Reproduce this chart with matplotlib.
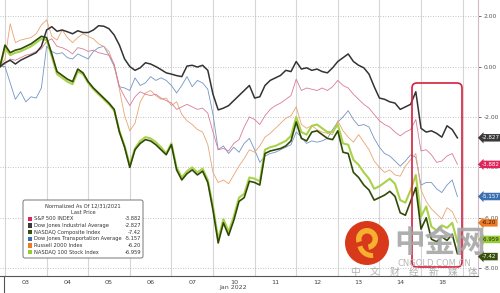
import matplotlib
matplotlib.use('Agg')
import matplotlib.pyplot as plt
import matplotlib.patches as mpatches
import matplotlib.transforms as mtransforms

# Dias de negociacion (eje x) y etiquetas
days = ['03', '04', '05', '06', '07', '10', '11', '12', '13', '14', '18']
samples_per_day = 8

# Rendimiento normalizado (%) desde 12/31/2021, 8 lecturas por dia
dow = [0.0,
       0.15, 0.25, 0.10, 0.25, 0.35, 0.45, 0.55, 0.80,
       1.45, 1.58, 1.40, 1.45, 1.38, 1.30, 1.42, 1.35,
       1.35, 1.45, 1.62, 1.60, 1.50, 1.25, 0.85, 0.30,
       0.00, -0.15, -0.05, 0.15, 0.10, 0.00, -0.12, -0.25,
       -0.30, -0.36, -0.40, 0.02, 0.05, -0.02, 0.05, -0.15,
       -1.10, -1.72, -1.65, -1.55, -1.35, -1.15, -0.95, -0.75,
       -1.25, -1.20, -0.75, -0.55, -0.45, -0.35, -0.15, -0.20,
       0.20, -0.10, -0.05, -0.15, -0.10, -0.20, -0.25, -0.05,
       0.20, 0.35, 0.50, 0.20, 0.05, -0.05, -0.30, -0.80,
       -1.25, -1.30, -1.40, -1.45, -1.70, -1.60, -1.50, -1.00,
       -2.45, -2.60, -2.55, -2.65, -2.80, -2.35, -2.50, -2.83]

spx = [0.0,
       0.10, 0.30, 0.25, 0.35, 0.45, 0.50, 0.60, 0.70,
       1.00, 1.10, 0.80, 0.75, 0.65, 0.50, 0.75, 0.70,
       0.60, 0.65, 0.55, 0.50, 0.45, 0.10, -0.80, -1.20,
       -1.55, -1.20, -1.00, -1.10, -1.15, -1.10, -1.25, -1.35,
       -1.45, -1.70, -1.60, -1.50, -1.60, -1.70, -1.65, -1.85,
       -2.60, -3.30, -3.25, -3.35, -3.05, -2.90, -2.40, -2.00,
       -2.10, -2.30, -1.95, -1.70, -1.55, -1.45, -1.30, -1.15,
       -0.50, -0.95, -0.85, -0.90, -0.95, -0.85, -0.95, -0.80,
       -0.55, -0.75, -0.85, -1.10, -1.30, -1.50, -1.65, -1.90,
       -2.15, -2.30, -2.40, -2.60, -2.75, -2.60, -2.50, -2.10,
       -3.35, -3.30, -3.50, -3.80, -3.75, -3.55, -3.45, -3.88]

ccmp = [0.0,
        0.85, 0.55, 0.65, 0.70, 0.80, 0.90, 1.05, 1.20,
        1.15, 0.50, -0.20, -0.35, -0.50, -0.60, -0.10, -0.25,
        -0.60, -0.85, -1.05, -1.25, -1.45, -1.70, -2.60, -3.20,
        -4.00, -3.30, -3.05, -2.90, -2.95, -3.10, -3.30, -3.50,
        -3.10, -4.10, -4.50, -4.25, -4.10, -4.30, -4.15, -4.60,
        -5.70, -7.00, -6.20, -6.70, -6.10, -5.35, -5.20, -4.55,
        -4.60, -4.70, -3.45, -3.35, -3.30, -3.25, -3.15, -2.95,
        -2.20, -2.85, -2.95, -2.60, -2.55, -2.70, -2.85, -2.90,
        -2.55, -3.40, -3.45, -4.20, -4.40, -4.70, -4.90, -5.30,
        -5.20, -5.10, -4.95, -5.15, -5.80, -5.90, -5.35, -4.80,
        -6.45, -6.00, -6.85, -6.95, -6.75, -6.90, -6.65, -7.42]

tran = [0.0,
        0.00, -0.65, -1.30, -1.00, -1.40, -1.20, -1.25, -0.85,
        0.80, 0.60, 0.50, 0.55, 0.35, 0.30, 0.50, 0.40,
        0.30, 0.60, 0.75, 0.80, 0.45, 0.00, -0.80, -0.85,
        -0.95, -0.45, -0.75, -0.65, -0.40, -0.55, -0.45, -0.55,
        -0.75, -1.05, -0.75, -0.40, -0.80, -0.55, -0.65, -0.90,
        -1.90, -3.30, -3.15, -3.45, -3.20, -3.40, -3.05, -2.85,
        -3.30, -3.80, -3.55, -3.45, -3.40, -3.30, -3.20, -3.10,
        -2.60, -2.80, -3.05, -2.95, -3.00, -2.95, -2.85, -2.50,
        -2.20, -2.00, -1.75, -2.10, -2.35, -2.30, -2.40, -2.85,
        -3.20, -3.45, -3.55, -3.75, -3.95, -3.75, -3.50, -3.60,
        -4.70, -4.60, -4.60, -4.85, -5.00, -4.70, -4.50, -5.157]

rty = [0.0,
       0.30, 1.70, 0.95, 1.05, 1.10, 1.15, 1.30, 1.65,
       1.85, 1.20, 1.05, 1.45, 1.15, 0.95, 1.15, 1.30,
       1.20, 1.10, 0.90, 0.80, 0.60, 0.05, -0.90, -1.95,
       -2.55, -2.25, -1.40, -1.05, -0.95, -1.15, -1.30, -1.25,
       -1.55, -1.40, -1.90, -2.15, -2.30, -2.50, -2.60, -3.10,
       -4.20, -4.60, -4.50, -4.65, -4.30, -3.95, -3.65, -3.30,
       -3.40, -3.15, -2.80, -2.65, -2.45, -2.25, -2.05, -1.95,
       -1.60, -2.30, -2.45, -2.35, -2.50, -2.60, -2.65, -2.70,
       -2.15, -2.55, -2.80, -3.00, -2.70, -3.00, -3.30, -3.75,
       -4.00, -4.20, -4.10, -4.30, -4.35, -3.95, -3.70, -3.45,
       -4.90, -5.35, -5.65, -5.85, -6.05, -5.60, -5.75, -6.20]

ndx = [0.0,
       0.75, 0.45, 0.55, 0.60, 0.70, 0.80, 0.95, 1.10,
       1.05, 0.40, -0.30, -0.45, -0.60, -0.70, -0.20, -0.30,
       -0.65, -0.90, -1.10, -1.30, -1.50, -1.75, -2.55, -3.15,
       -3.90, -3.25, -2.95, -2.80, -2.85, -3.00, -3.20, -3.45,
       -3.05, -4.00, -4.40, -4.15, -4.00, -4.20, -4.05, -4.50,
       -5.55, -6.85, -6.05, -6.55, -5.95, -5.20, -5.05, -4.40,
       -4.45, -4.55, -3.30, -3.20, -3.15, -3.05, -2.95, -2.75,
       -2.00, -2.60, -2.70, -2.35, -2.30, -2.45, -2.60, -2.60,
       -2.30, -3.05, -3.10, -3.70, -3.90, -4.20, -4.45, -4.85,
       -4.75, -4.60, -4.45, -4.65, -5.30, -5.40, -4.90, -4.30,
       -5.95, -5.55, -6.35, -6.50, -6.30, -6.40, -6.20, -6.959]

legend_names = ['S&P 500 INDEX', 'Dow Jones Industrial Average', 'NASDAQ Composite Index',
                'Dow Jones Transportation Average', 'Russell 2000 Index', 'NASDAQ 100 Stock Index']
legend_values = ['-3.882', '-2.827', '-7.42', '-5.157', '-6.20', '-6.959']
legend_colors = ['#e0245a', '#3a3a3a', '#37500c', '#3c6fb0', '#f07820', '#98cc33']

# posicion temporal en dias (un punto previo = cierre 12/31)
pos = [-0.12] + [d + k / samples_per_day for d in range(len(days)) for k in range(samples_per_day)]

fig = plt.figure(figsize=(5, 2.93), dpi=100)
ax = fig.add_axes([0, 0.058, 0.956, 0.942])

# lineas
ax.plot(pos, tran, color='#7393c4', lw=0.6, zorder=2)
ax.plot(pos, rty, color='#eba36f', lw=0.6, zorder=2)
ax.plot(pos, spx, color='#d97b98', lw=0.6, zorder=2)
ax.plot(pos, ndx, color='#a9d24a', lw=1.5, zorder=3)
ax.plot(pos, ccmp, color='#2f4a07', lw=1.2, zorder=4)
ax.plot(pos, dow, color='#333333', lw=1.1, zorder=5)

ax.set_xlim(-0.12, 11.37)
ax.set_ylim(-8.31, 2.64)

# eje x: etiquetas en el centro del dia, rejilla en los limites
ax.set_xticks([i + 0.5 for i in range(len(days))])
ax.set_xticklabels(days)
ax.set_xticks(range(len(days) + 1), minor=True)
ax.tick_params(axis='x', which='both', length=0, labelsize=4.6, colors='#444444', pad=3)
ax.grid(True, which='minor', axis='x', color='#d6d6d6', lw=0.8)

# eje y a la derecha
ax.yaxis.tick_right()
ax.set_yticks([2, 0, -2, -4, -6, -8])
ax.set_yticklabels(['%.2f' % v for v in [2, 0, -2, -4, -6, -8]])
ax.tick_params(axis='y', length=2.5, width=0.6, colors='#555555', labelsize=4.3, pad=1.5)
ax.grid(True, which='major', axis='y', color='#b0b0b0', lw=0.6, linestyle=(0, (1, 2)))

for s in ['left', 'top']:
    ax.spines[s].set_visible(False)
ax.spines['right'].set_color('#d6b8c6')
ax.spines['right'].set_linewidth(0.8)
ax.spines['bottom'].set_color('#555555')
ax.spines['bottom'].set_linewidth(0.8)


def P(x, y):
    # pixeles de la imagen -> pulgadas de la figura
    return (x / 100, (293 - y) / 100)


inch = fig.dpi_scale_trans
fig.add_artist(plt.Line2D([0.04, 0.04], [0, 0.17], transform=inch, color='#555555', lw=0.8))
fig.text(*P(233, 288), 'Jan 2022', transform=inch, ha='center', va='center', fontsize=4.5, color='#444444')

# etiquetas de ultimo precio (las dos verdes se separan un poco)
tag = mtransforms.blended_transform_factory(fig.transFigure, ax.transData)
tag_text = ['white', 'white', 'white', '#202020', '#202020', 'white']
tag_shift = [0, 0, 0, 0, 0.1, -0.12]
order = [1, 0, 3, 4, 5, 2]
for i, c, dy in zip(order, tag_text, tag_shift):
    ax.text(482 / 500, float(legend_values[i]) + dy, legend_values[i], transform=tag, ha='left', va='center',
            fontsize=4.1, color=c, clip_on=False, zorder=10,
            bbox=dict(boxstyle='larrow,pad=0.22', fc=legend_colors[i], ec='none'))

# recuadro rojo
fig.add_artist(mpatches.FancyBboxPatch(P(412, 267), 0.50, 1.84, transform=inch,
                                       boxstyle='round,pad=0,rounding_size=0.05',
                                       fc='none', ec='#d81e3e', lw=1.2, zorder=6))

# leyenda
fig.add_artist(mpatches.FancyBboxPatch(P(23, 258), 1.20, 0.58, transform=inch,
                                       boxstyle='round,pad=0,rounding_size=0.02',
                                       fc='white', ec='#777777', lw=0.7, zorder=7))
fig.text(*P(83, 206), 'Normalized As Of 12/31/2021', transform=inch, ha='center', va='center',
         fontsize=3.7, color='#333333', zorder=8)
fig.text(*P(83, 213), 'Last Price', transform=inch, ha='center', va='center',
         fontsize=3.7, color='#333333', zorder=8)
for i, (name, val, col) in enumerate(zip(legend_names, legend_values, legend_colors)):
    y = 219 + 6.6 * i
    fig.add_artist(mpatches.Rectangle(P(27.5, y + 2.2), 0.045, 0.045, transform=inch,
                                      fc=col, ec='none', zorder=8))
    fig.text(*P(34.5, y), name, transform=inch, ha='left', va='center',
             fontsize=3.7, color='#333333', zorder=8)
    fig.text(*P(141, y), val, transform=inch, ha='right', va='center',
             fontsize=3.7, color='#333333', zorder=8)

# marca de agua
fig.add_artist(mpatches.Circle(P(367, 243), 0.22, transform=inch, fc='#d8391b', ec='none', zorder=8))
fig.add_artist(mpatches.Wedge(P(367, 239), 0.11, -80, 200, width=0.055, transform=inch,
                              fc='#f6b030', ec='none', zorder=9))
fig.add_artist(mpatches.Wedge(P(372, 243), 0.15, 195, 275, width=0.05, transform=inch,
                              fc='#f6b030', ec='none', zorder=9))
fig.text(*P(440, 243), '中金网', transform=inch, ha='center', va='center', fontsize=22,
         fontweight='bold', color='#a6a6a6', alpha=0.9, family=['Noto Sans CJK SC', 'DejaVu Sans'], zorder=8)
fig.text(*P(434, 264), 'CNGOLD.COM.CN', transform=inch, ha='center', va='center', fontsize=6,
         color='#b8b8b8', zorder=8)
for i, ch in enumerate('中文财经新媒体'):
    fig.text(*P(355 + 19.6 * i, 272), ch, transform=inch, ha='center', va='center', fontsize=7,
             color='#b0b0b0', family=['Noto Sans CJK SC', 'DejaVu Sans'], zorder=8)

fig.savefig('out.png', dpi=100)
